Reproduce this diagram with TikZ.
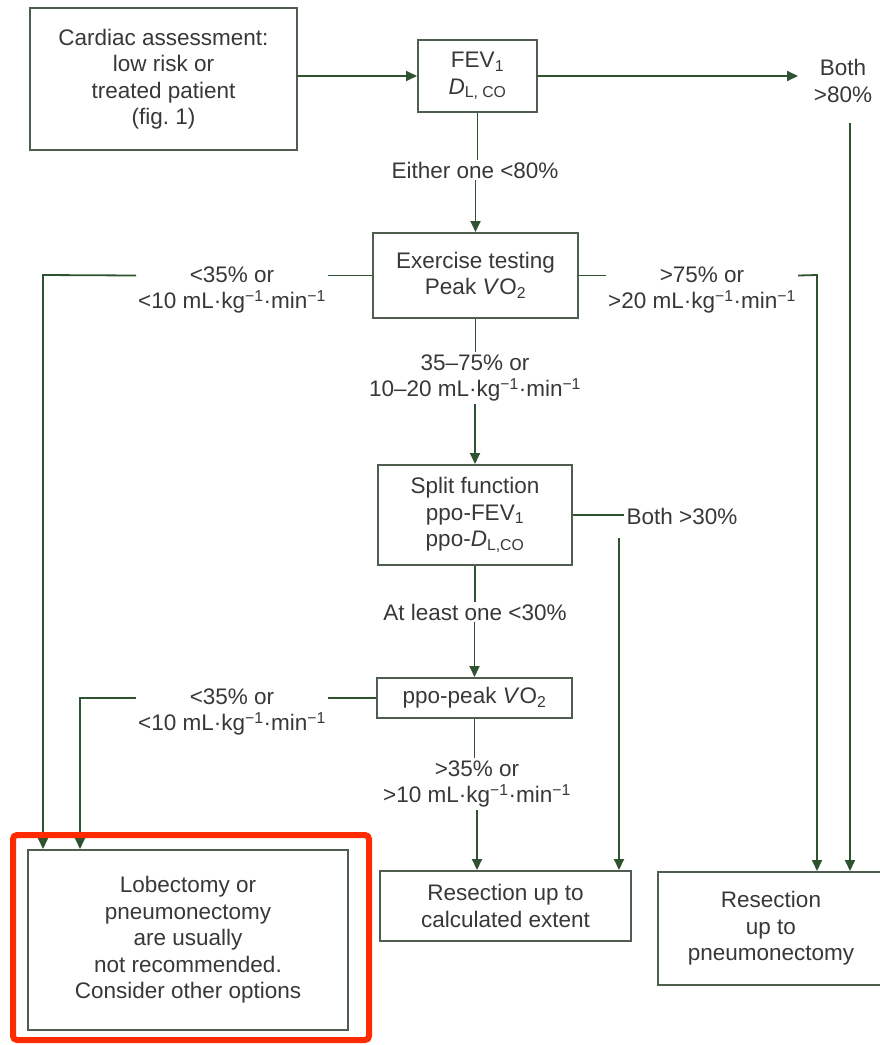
\documentclass[tikz,border=0pt]{standalone}
\usepackage{fontspec}
\setmainfont{Liberation Sans}
\usetikzlibrary{arrows.meta}
\definecolor{linegreen}{HTML}{2F5230}
\definecolor{boxgray}{HTML}{4F5D4F}
\definecolor{txt}{HTML}{383838}
\definecolor{hilite}{HTML}{FF2A00}
\newcommand{\perkgmin}{mL·kg\textsuperscript{−1}·min\textsuperscript{−1}}
\begin{document}
\begin{tikzpicture}[x=1pt,y=-1pt,
  every node/.style={font=\fontsize{22.5}{26.5}\selectfont, text=txt, align=center},
  box/.style={draw=boxgray, line width=2pt, inner sep=0pt, fill=white},
  lbl/.style={inner sep=2pt},
  conn/.style={draw=linegreen, line width=1.8pt},
  arr/.style={conn, -{Triangle[length=11pt,width=10pt]}}
]
\useasboundingbox (0,0) rectangle (879,1045);
\fill[white] (0,0) rectangle (879,1045);

% decision boxes
\node[box, minimum width=267pt, minimum height=142pt] (cardiac) at (163.5,79)
  {Cardiac assessment:\\low risk or\\treated patient\\(fig.~1)};
\node[box, minimum width=119pt, minimum height=72pt] (fev) at (477.5,76)
  {FEV\textsubscript{1}\\\textit{D}\textsubscript{L, CO}};
\node[box, minimum width=205pt, minimum height=85pt] (exer) at (475.5,275.5)
  {Exercise testing\\Peak \textit{V}O\textsubscript{2}};
\node[box, minimum width=194pt, minimum height=100pt] (split) at (475,515)
  {Split function\\ppo-FEV\textsubscript{1}\\ppo-\textit{D}\textsubscript{L,CO}};
\node[box, minimum width=195pt, minimum height=40pt] (ppo) at (474.5,698)
  {ppo-peak \textit{V}O\textsubscript{2}};

% outcome boxes
\node[box, minimum width=320pt, minimum height=180pt] (lob) at (188,940)
  {Lobectomy or\\pneumonectomy\\are usually\\not recommended.\\Consider other options};
\node[box, minimum width=251pt, minimum height=70pt] (rcalc) at (505.5,906)
  {Resection up to\\calculated extent};
\node[box, minimum width=226pt, minimum height=113pt] (rpn) at (771,928.5)
  {Resection\\up to\\pneumonectomy};

% branch labels
\node[lbl] (both80) at (843,81) {Both\\>80\%};
\node[lbl] (either) at (475,170) {Either one <80\%};
\node[lbl] (lt1) at (232,290) {<35\% or\\<10 \perkgmin};
\node[lbl] (gt1) at (702,290) {>75\% or\\>20 \perkgmin};
\node[lbl] (mid1) at (475,378) {35–75\% or\\10–20 \perkgmin};
\node[lbl] (both30) at (682,516) {Both >30\%};
\node[lbl] (atleast) at (475,612) {At least one <30\%};
\node[lbl] (lt2) at (232,712) {<35\% or\\<10 \perkgmin};
\node[lbl] (gt2) at (477,784) {>35\% or\\>10 \perkgmin};

% free ends of connectors
\coordinate (c80) at (850,123);
\coordinate (c30) at (619,538);
\coordinate (cl1) at (43,275);
\coordinate (cr1) at (817,275);
\coordinate (cl2) at (80,698);

% connectors
\draw[arr] (cardiac.east |- fev.west) -- (fev.west);
\draw[arr] (fev.east) -- (798,76);
\draw[arr] (c80) -- (c80 |- rpn.north);

\draw[conn] (fev.south) -- (fev.south |- either.north);
\draw[arr] (either.south -| exer.north) -- (exer.north);

\draw[conn] (exer.west) -- (exer.west -| lt1.east);
\draw[arr] (exer.west -| lt1.west) -- (cl1) -- (cl1 |- lob.north);
\draw[conn] (exer.east) -- (exer.east -| gt1.west);
\draw[arr] (exer.east -| gt1.east) -- (cr1) -- (cr1 |- rpn.north);

\draw[conn] (exer.south) -- (exer.south |- mid1.north);
\draw[arr] (mid1.south -| split.north) -- (split.north);

\draw[conn] (split.east) -- (split.east -| both30.west);
\draw[arr] (c30) -- (c30 |- rcalc.north);

\draw[conn] (split.south) -- (split.south |- atleast.north);
\draw[arr] (atleast.south -| ppo.north) -- (ppo.north);

\draw[conn] (ppo.west) -- (ppo.west -| lt2.east);
\draw[arr] (ppo.west -| lt2.west) -- (cl2) -- (cl2 |- lob.north);

\draw[conn] (ppo.south) -- (ppo.south |- gt2.north);
\draw[arr] (gt2.south) -- (gt2.south |- rcalc.north);

% highlight frame
\draw[hilite, line width=6pt, rounded corners=4pt] (13,835) rectangle (369,1040);
\end{tikzpicture}
\end{document}
